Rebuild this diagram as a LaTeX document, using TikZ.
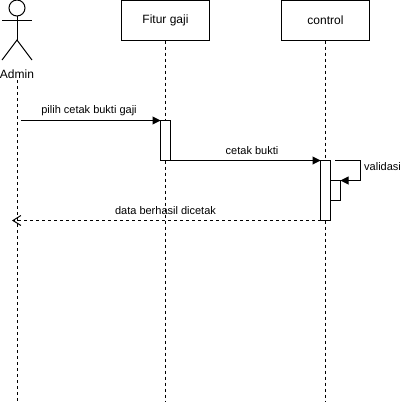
\documentclass[tikz,border=0pt]{standalone}
\usepackage{fontspec}
\setmainfont{Liberation Sans}
\usetikzlibrary{arrows.meta, positioning}

\tikzset{
    lifebox/.style={draw, line width=1pt, outer sep=0pt, minimum width=88pt, minimum height=40pt, inner sep=0pt, font=\fontsize{12}{14}\selectfont},
    actbox/.style={draw, fill=white, line width=1pt, outer sep=0pt, minimum width=10pt, inner sep=0pt},
    lifeline/.style={line width=1pt, dash pattern=on 3pt off 3pt},
    msglabel/.style={inner sep=0pt, font=\fontsize{11}{13}\selectfont},
    msg/.style={line width=1pt, -{Triangle[length=8pt,width=8pt]}},
    reply/.style={line width=1pt, dash pattern=on 3pt off 3pt, -{Straight Barb[length=8pt,width=10pt]}},
}

\begin{document}
\begin{tikzpicture}[x=1pt, y=-1pt]
    \useasboundingbox (0,0) rectangle (401,402);

    % actor
    \node (head) [draw, circle, line width=1pt, outer sep=0pt, minimum size=16pt, inner sep=0pt] at (17,8) {};
    \coordinate (hip) at (17,40);
    \coordinate (armL) at (2,20.5);
    \coordinate (armR) at (32,20.5);
    \coordinate (legL) at (2,60);
    \coordinate (legR) at (32,60);
    \draw[line width=1pt] (head.south) -- (hip);
    \draw[line width=1pt] (armL) -- (armR);
    \draw[line width=1pt] (legL) -- (hip) -- (legR);
    \node (admin) [msglabel, font=\fontsize{12}{14}\selectfont] at (17,74) {Admin};

    % heads
    \node (fitur) [lifebox] at (165.5,20.5) {Fitur gaji};
    \node (control) [lifebox, right=72pt of fitur] {control};

    % lifelines
    \coordinate (adminTop) at (17,80);
    \coordinate (adminEnd) at (17,401);
    \coordinate (fiturEnd) at (165.5,401);
    \coordinate (controlEnd) at (325.5,401);
    \draw[lifeline] (adminTop) -- (adminEnd);
    \draw[lifeline] (fitur) -- (fiturEnd);
    \draw[lifeline] (control) -- (controlEnd);

    % activations
    \node (actFitur) [actbox, minimum height=40pt] at (165.5,140.5) {};
    \node (actControl) [actbox, minimum height=60pt] at (325.5,190.5) {};
    \node (actSelf) [actbox, minimum height=20pt] at (335.5,190.5) {};

    % messages
    \coordinate (msgStart) at (21,120.5);
    \coordinate (selfA) at (335,160.5);
    \coordinate (selfB) at (360.5,160.5);
    \coordinate (selfC) at (360.5,180.5);
    \coordinate (replyEnd) at (12,220.5);
    \draw[msg] (msgStart) -- (actFitur.north west);
    \draw[msg] (actFitur.south east) -- (actControl.north west);
    \draw[msg] (selfA) -- (selfB) -- (selfC) -- (actSelf.north east);
    \draw[reply] (actControl.south west) -- (replyEnd);

    \node (lblPilih) [msglabel] at (89,111) {pilih cetak bukti gaji};
    \node (lblCetak) [msglabel] at (252,151) {cetak bukti};
    \node (lblValidasi) [msglabel, anchor=west] at (364,167) {validasi};
    \node (lblData) [msglabel] at (165.5,211) {data berhasil dicetak};
\end{tikzpicture}
\end{document}
